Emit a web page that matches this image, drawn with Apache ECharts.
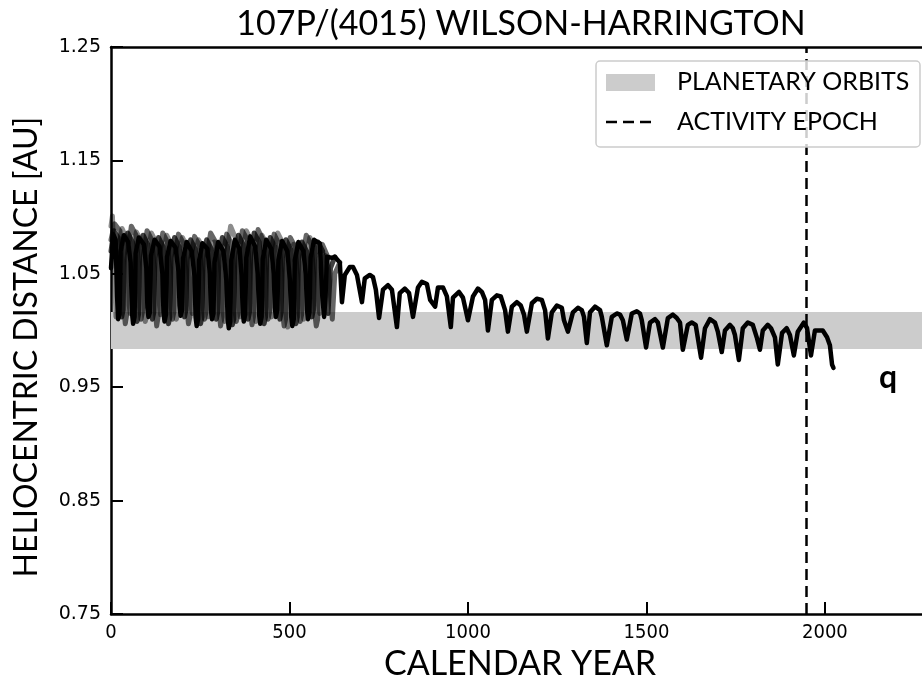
<!DOCTYPE html>
<html>
<head>
<meta charset="utf-8">
<script src="https://cdn.jsdelivr.net/npm/echarts@6/dist/echarts.min.js"></script>
<style>html,body{margin:0;padding:0;background:#fff;}#c{width:922px;height:683px;}</style>
</head>
<body>
<div id="c"></div>
<script>
// ---- data ----
var titleText = '107P/(4015) WILSON-HARRINGTON';
var xName = 'CALENDAR YEAR';
var yName = 'HELIOCENTRIC DISTANCE [AU]';
var xRange = [0, 2272];
var yRange = [0.75, 1.25];
var xInterval = 500;
var yInterval = 0.1;
var bandRange = [0.9837, 1.0163];   // planetary orbits band (AU)
var epochYear = 1949;               // activity epoch
var legendNames = ['PLANETARY ORBITS', 'ACTIVITY EPOCH'];
var curveLabel = 'q';

var mainTrack = [
[0,1.055],[6,1.085],[13,1.080],[17,1.030],[20,1.010],[24,1.014],
[27,1.070],[36,1.084],[48,1.078],[55,1.060],[59,1.015],[62,1.006],[66,1.012],
[69,1.068],[78,1.082],[92,1.076],[99,1.055],[102,1.020],[105,1.012],[109,1.016],
[112,1.066],[122,1.080],[136,1.074],[144,1.050],[147,1.016],[150,1.008],[154,1.014],
[157,1.065],[167,1.079],[181,1.073],[189,1.052],[192,1.022],[195,1.013],[199,1.018],
[202,1.064],[212,1.078],[226,1.070],[234,1.048],[237,1.012],[240,1.004],[244,1.010],
[247,1.062],[256,1.077],[270,1.072],[277,1.050],[280,1.018],[283,1.010],[287,1.015],
[290,1.060],[300,1.078],[315,1.070],[323,1.045],[327,1.010],[330,1.002],[334,1.008],
[337,1.062],[347,1.080],[360,1.072],[366,1.048],[369,1.016],[372,1.008],[376,1.014],
[379,1.064],[390,1.083],[404,1.074],[411,1.050],[415,1.014],[418,1.006],[422,1.012],
[425,1.063],[435,1.080],[449,1.072],[456,1.050],[459,1.020],[462,1.012],[466,1.018],
[469,1.062],[479,1.079],[494,1.070],[501,1.045],[505,1.012],[508,1.004],[512,1.010],
[515,1.062],[525,1.078],[539,1.070],[546,1.048],[549,1.018],[552,1.010],[556,1.016],
[559,1.064],[569,1.080],[578,1.078],[585,1.077],[592,1.030],[597,1.012],[601,1.030],
[605,1.065],[619,1.064],[627,1.065],[641,1.060],[647,1.025],
[655,1.049],[669,1.056],[678,1.056],[689,1.049],[703,1.025],
[711,1.046],[725,1.049],[734,1.047],[742,1.036],[751,1.011],
[762,1.036],[776,1.040],[787,1.036],[801,1.003],
[809,1.033],[823,1.037],[835,1.033],[846,1.012],
[860,1.038],[871,1.043],[885,1.041],[894,1.027],[908,1.021],[916,1.038],[930,1.038],[941,1.030],[952,1.003],
[958,1.029],[975,1.034],[986,1.029],[1000,1.009],
[1014,1.030],[1028,1.037],[1039,1.034],[1048,1.027],[1056,1.000],
[1067,1.027],[1081,1.031],[1092,1.030],[1104,1.018],[1112,0.999],
[1123,1.021],[1137,1.025],[1148,1.022],[1157,1.014],[1165,0.999],
[1179,1.024],[1193,1.028],[1207,1.027],[1216,1.018],[1224,0.993],
[1235,1.016],[1249,1.022],[1263,1.020],[1269,1.009],[1280,0.999],
[1294,1.016],[1308,1.020],[1319,1.018],[1325,1.012],[1333,0.989],
[1342,1.016],[1356,1.021],[1370,1.018],[1375,1.012],[1389,0.987],
[1403,1.012],[1417,1.015],[1426,1.014],[1434,1.009],[1445,0.992],
[1459,1.015],[1473,1.017],[1482,1.015],[1487,1.009],[1499,0.985],
[1510,1.007],[1524,1.010],[1532,1.007],[1546,0.985],
[1560,1.011],[1574,1.014],[1585,1.011],[1594,1.007],[1602,0.983],
[1616,1.005],[1627,1.007],[1638,1.005],[1653,0.976],
[1664,1.002],[1678,1.010],[1692,1.007],[1700,0.999],[1711,0.981],
[1720,1.000],[1734,1.005],[1742,1.002],[1748,0.996],[1759,0.974],
[1770,1.002],[1784,1.007],[1798,1.005],[1809,0.994],[1818,0.983],
[1826,1.000],[1840,1.005],[1849,1.002],[1860,0.994],[1868,0.970],
[1880,0.998],[1893,1.002],[1902,0.996],[1913,0.978],
[1924,0.999],[1941,1.007],[1950,1.002],[1961,0.978],
[1972,1.000],[1980,1.000],[1994,1.000],[2006,0.994],[2014,0.987],[2020,0.970],[2024,0.967]
];

var cloneA = [
[0,1.080],[10,1.094],[25,1.088],[33,1.060],[37,1.016],[40,1.006],[44,1.014],
[47,1.068],[57,1.092],[70,1.084],[78,1.055],[81,1.020],[84,1.010],[88,1.016],
[91,1.066],[101,1.088],[114,1.080],[122,1.050],[125,1.014],[128,1.004],[132,1.012],
[135,1.064],[145,1.086],[158,1.078],[166,1.050],[169,1.020],[172,1.010],[176,1.016],
[179,1.065],[189,1.085],[203,1.077],[211,1.048],[214,1.015],[217,1.006],[221,1.012],
[224,1.064],[234,1.083],[248,1.075],[256,1.046],[259,1.018],[262,1.010],[266,1.016],
[269,1.066],[279,1.086],[293,1.078],[301,1.050],[304,1.014],[307,1.004],[311,1.012],
[314,1.066],[324,1.085],[338,1.076],[345,1.050],[348,1.016],[351,1.008],[355,1.014],
[358,1.068],[368,1.088],[382,1.080],[389,1.052],[392,1.014],[395,1.005],[399,1.012],
[402,1.068],[412,1.089],[426,1.080],[433,1.052],[437,1.018],[440,1.010],[444,1.016],
[447,1.066],[457,1.085],[471,1.076],[478,1.050],[482,1.012],[485,1.004],[489,1.010],
[492,1.064],[502,1.082],[516,1.074],[523,1.046],[527,1.016],[530,1.008],[534,1.014],
[537,1.066],[547,1.084],[561,1.076],[568,1.048],[572,1.012],[575,1.004],[579,1.010],
[582,1.062],[592,1.076],[606,1.066],[613,1.040],[620,1.010],
[627,1.050],[641,1.060]
];

var cloneB = [
[0,1.092],[4,1.101],[9,1.060],[14,1.012],[18,1.018],
[21,1.070],[31,1.090],[42,1.082],[48,1.055],[51,1.022],[54,1.015],[58,1.020],
[61,1.070],[71,1.087],[83,1.080],[90,1.052],[93,1.016],[96,1.008],[100,1.014],
[103,1.068],[113,1.086],[126,1.078],[133,1.050],[136,1.022],[139,1.014],[143,1.020],
[146,1.066],[156,1.084],[169,1.076],[176,1.048],[180,1.018],[183,1.010],[187,1.016],
[190,1.066],[200,1.082],[213,1.074],[220,1.046],[224,1.022],[228,1.015],[232,1.020],
[235,1.066],[245,1.080],[258,1.073],[265,1.048],[269,1.020],[272,1.012],[276,1.018],
[279,1.064],[289,1.078],[302,1.072],[310,1.046],[314,1.016],[318,1.008],[322,1.014],
[325,1.070],[335,1.092],[348,1.082],[355,1.054],[359,1.020],[362,1.012],[366,1.018],
[369,1.068],[379,1.088],[392,1.080],[399,1.050],[403,1.016],[406,1.008],[410,1.014],
[413,1.064],[423,1.084],[436,1.076],[443,1.048],[447,1.020],[450,1.012],[454,1.018],
[457,1.068],[467,1.086],[480,1.078],[487,1.050],[491,1.012],[495,1.003],[499,1.010],
[502,1.060],[512,1.076],[525,1.070],[533,1.045],[537,1.018],[540,1.010],[544,1.016],
[547,1.064],[557,1.082],[570,1.074],[578,1.048],[582,1.022],[585,1.015],[589,1.020],
[592,1.060],[600,1.066]
];

var cloneC = [
[0,1.070],[8,1.088],[20,1.082],[25,1.055],[28,1.020],[30,1.012],[34,1.018],
[37,1.066],[47,1.086],[60,1.078],[67,1.050],[70,1.016],[73,1.008],[77,1.014],
[80,1.066],[90,1.084],[103,1.076],[110,1.050],[113,1.018],[116,1.010],[120,1.016],
[123,1.064],[133,1.082],[146,1.074],[154,1.046],[158,1.014],[161,1.006],[165,1.012],
[168,1.064],[178,1.082],[191,1.074],[199,1.048],[203,1.020],[206,1.012],[210,1.018],
[213,1.062],[223,1.080],[236,1.072],[244,1.046],[248,1.014],[251,1.006],[255,1.012],
[258,1.064],[268,1.080],[281,1.072],[289,1.046],[292,1.018],[295,1.010],[299,1.016],
[302,1.064],[312,1.082],[326,1.074],[333,1.048],[337,1.012],[340,1.005],[344,1.010],
[347,1.066],[357,1.084],[370,1.076],[377,1.050],[381,1.018],[384,1.010],[388,1.016],
[391,1.066],[401,1.086],[415,1.078],[422,1.050],[426,1.014],[429,1.006],[433,1.012],
[436,1.064],[446,1.082],[459,1.074],[466,1.048],[470,1.018],[473,1.010],[477,1.016],
[480,1.064],[490,1.080],[503,1.072],[511,1.046],[515,1.014],[518,1.006],[522,1.012],
[525,1.062],[535,1.078],[548,1.070],[556,1.046],[560,1.020],[563,1.012],[567,1.018],
[570,1.064],[580,1.078],[593,1.070],[601,1.044],[608,1.015],
[615,1.055],[627,1.065]
];

// ---- chart ----
var chart = echarts.init(document.getElementById('c'), null, {renderer: 'canvas'});
var geo = 'Lato, "Noto Sans", sans-serif';
var tickFont = '"DejaVu Sans", sans-serif';
var lw = 4.5;

function cloneSeries(data, alpha, z) {
  return {type: 'line', data: data, showSymbol: false, z: z, silent: true,
    lineStyle: {color: 'rgba(0,0,0,' + alpha + ')', width: lw + 0.5, join: 'round', cap: 'round'}};
}

var option = {
  animation: false,
  backgroundColor: '#ffffff',
  grid: {left: 111, top: 47, right: 0, bottom: 69, containLabel: false},
  xAxis: [{
    type: 'value', min: xRange[0], max: xRange[1], interval: xInterval,
    axisLine: {show: true, onZero: false, lineStyle: {color: '#000', width: 2.5}},
    axisTick: {show: true, inside: true, length: 12, lineStyle: {color: '#000', width: 2}},
    axisLabel: {show: true, margin: 9, color: '#000', fontFamily: '"DejaVu Sans Condensed", "DejaVu Sans", sans-serif', fontSize: 20, showMaxLabel: false,
      formatter: function (v) { return String(v); }},
    splitLine: {show: false}
  }, {
    type: 'value', position: 'top', min: xRange[0], max: xRange[1],
    axisLine: {show: true, onZero: false, lineStyle: {color: '#000', width: 2.5}},
    axisTick: {show: false}, axisLabel: {show: false}, splitLine: {show: false}
  }],
  yAxis: [{
    type: 'value', min: yRange[0], max: yRange[1], interval: yInterval,
    axisLine: {show: true, onZero: false, lineStyle: {color: '#000', width: 2.5}},
    axisTick: {show: true, inside: true, length: 12, lineStyle: {color: '#000', width: 2}},
    axisLabel: {show: true, margin: 10, color: '#000', fontFamily: tickFont, fontSize: 19,
      formatter: function (v) { return v.toFixed(2); }},
    splitLine: {show: false}
  }],
  series: [
    {
      name: legendNames[0], type: 'line', data: [], silent: true, z: 1,
      markArea: {silent: true, itemStyle: {color: '#cccccc', opacity: 1},
        data: [[{yAxis: bandRange[0]}, {yAxis: bandRange[1]}]]}
    },
    cloneSeries(cloneB, 0.45, 2),
    cloneSeries(cloneA, 0.6, 3),
    cloneSeries(cloneC, 0.75, 4),
    {
      type: 'line', data: mainTrack, showSymbol: false, z: 5, silent: true,
      lineStyle: {color: '#000', width: lw, join: 'round', cap: 'round'}
    },
    {
      name: legendNames[1], type: 'line', data: [], z: 6, silent: true,
      markLine: {silent: true, symbol: ['none', 'none'], label: {show: false},
        lineStyle: {color: '#000', width: 2.5, type: [11, 6]},
        data: [{xAxis: epochYear}]}
    }
  ],
  graphic: [
    {type: 'text', x: 521, y: 24, z: 10,
      style: {text: titleText, font: '34px ' + geo, fill: '#000', align: 'center', verticalAlign: 'middle'}},
    {type: 'text', x: 520, y: 664, z: 10,
      style: {text: xName, font: '34px ' + geo, fill: '#000', align: 'center', verticalAlign: 'middle'}},
    {type: 'text', x: 27, y: 347, rotation: Math.PI / 2, z: 10,
      style: {text: yName, font: '32px ' + geo, fill: '#000', align: 'center', verticalAlign: 'middle'}},
    {type: 'text', x: 879, y: 378, z: 10,
      style: {text: curveLabel, font: 'bold 32px ' + geo, fill: '#000', align: 'left', verticalAlign: 'middle'}},
    {type: 'rect', z: 20, shape: {x: 596, y: 61, width: 324, height: 86, r: 4},
      style: {fill: 'rgba(255,255,255,0.8)', stroke: '#cccccc', lineWidth: 1.5}},
    {type: 'rect', z: 21, shape: {x: 606, y: 74, width: 49, height: 17},
      style: {fill: '#cccccc'}},
    {type: 'line', z: 21, shape: {x1: 606, y1: 122, x2: 657, y2: 122},
      style: {stroke: '#000', lineWidth: 2.5, lineDash: [11, 6]}},
    {type: 'text', x: 677, y: 82, z: 21,
      style: {text: legendNames[0], font: '25px ' + geo, fill: '#000', align: 'left', verticalAlign: 'middle'}},
    {type: 'text', x: 677, y: 122, z: 21,
      style: {text: legendNames[1], font: '25px ' + geo, fill: '#000', align: 'left', verticalAlign: 'middle'}}
  ]
};
chart.setOption(option);
</script>
</body>
</html>
